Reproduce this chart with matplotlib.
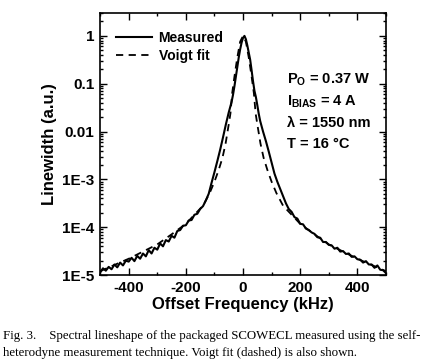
import numpy as np
import matplotlib
matplotlib.use('Agg')
import matplotlib.pyplot as plt
from matplotlib.ticker import LogLocator, MultipleLocator, FixedLocator, NullFormatter

# measured lineshape, offset freq (kHz) and log10(linewidth)
meas_f = [-500, -490, -480, -470, -460, -450, -440, -430, -420, -410,
          -400, -390, -380, -370, -360, -350, -340, -330, -320, -310,
          -300, -290, -280, -270, -260, -250, -240, -230, -220, -210,
          -200, -190, -180, -170, -160, -150, -140, -130, -120, -110,
          -100, -90, -80, -70, -60, -50, -40, -35, -30, -25,
          -20, -15, -10, -5, 0, 5, 10, 15, 20, 25,
          30, 35, 40, 45, 50, 55, 60, 70, 80, 90,
          100, 110, 120, 130, 140, 150, 160, 170, 180, 190,
          200, 210, 220, 230, 240, 250, 260, 270, 280, 290,
          300, 310, 320, 330, 340, 350, 360, 370, 380, 390,
          400, 410, 420, 430, 440, 450, 460, 470, 480, 490,
          500]
meas_log = [-4.95, -4.86, -4.91, -4.83, -4.88, -4.78, -4.84, -4.74, -4.80, -4.70,
            -4.72, -4.64, -4.71, -4.60, -4.66, -4.55, -4.61, -4.48, -4.55, -4.43,
            -4.47, -4.34, -4.40, -4.27, -4.30, -4.18, -4.22, -4.08, -4.06, -3.97,
            -3.96, -3.86, -3.85, -3.74, -3.72, -3.62, -3.56, -3.44, -3.30, -3.07,
            -2.85, -2.62, -2.38, -2.12, -1.85, -1.60, -1.38, -1.23, -1.05, -0.85,
            -0.65, -0.45, -0.28, -0.14, -0.04, 0.00, -0.07, -0.20, -0.35, -0.50,
            -0.72, -0.95, -1.15, -1.28, -1.45, -1.63, -1.78, -2.00, -2.20, -2.42,
            -2.65, -2.88, -3.05, -3.20, -3.35, -3.50, -3.62, -3.68, -3.79, -3.82,
            -3.93, -3.94, -4.03, -4.06, -4.11, -4.14, -4.21, -4.22, -4.31, -4.31,
            -4.37, -4.38, -4.45, -4.43, -4.51, -4.50, -4.56, -4.55, -4.62, -4.61,
            -4.67, -4.68, -4.74, -4.71, -4.78, -4.78, -4.85, -4.80, -4.89, -4.90,
            -4.96]

# Voigt fit (symmetric), |offset| in kHz and log10(linewidth)
voigt_f = [0, 10, 20, 30, 38, 44, 50, 61, 72, 85, 100, 117, 140, 200, 250, 300, 400, 500]
voigt_log = [0.0, -0.12, -0.45, -0.85, -1.20, -1.62, -1.85, -2.25, -2.55, -2.80,
             -3.05, -3.29, -3.55, -3.93, -4.15, -4.36, -4.66, -4.92]

info_lines = ['P$_\\mathregular{O}$ = 0.37 W', 'I$_\\mathregular{BIAS}$ = 4 A',
              '\u03bb = 1550 nm', 'T = 16 \u00b0C']
caption = ['Fig. 3.    Spectral lineshape of the packaged SCOWECL measured using the self-',
           'heterodyne measurement technique. Voigt fit (dashed) is also shown.']

plt.rcParams['font.family'] = ['Liberation Sans', 'DejaVu Sans']
plt.rcParams['mathtext.default'] = 'regular'

fig = plt.figure(figsize=(4.26, 3.63), dpi=100)
ax = fig.add_axes([0.235, 0.2424, 0.671, 0.7216])

mf = np.array(meas_f)
my = 10.0 ** np.array(meas_log)
vf = np.array(voigt_f)
vy = 10.0 ** np.array(voigt_log)
vf_full = np.concatenate([-vf[::-1], vf[1:]])
vy_full = np.concatenate([vy[::-1], vy[1:]])

ax.plot(mf, my, color='black', lw=1.5, label='Measured')
ax.plot(vf_full, vy_full, color='black', lw=1.3, ls=(0, (4, 3)), label='Voigt fit')

ax.set_yscale('log')
ax.set_xlim(-500, 500)
ax.set_ylim(1e-5, 3.0)

ax.xaxis.set_major_locator(FixedLocator([-400, -200, 0, 200, 400]))
ax.xaxis.set_minor_locator(MultipleLocator(100))
ax.yaxis.set_major_locator(FixedLocator([1e-5, 1e-4, 1e-3, 1e-2, 1e-1, 1]))
ax.yaxis.set_minor_locator(LogLocator(base=10, subs=np.arange(2, 10)))
ax.yaxis.set_minor_formatter(NullFormatter())
ax.set_yticklabels(['1E-5', '1E-4', '1E-3', '0.01', '0.1', '1'])
ax.set_xticklabels(['-400', '-200', '0', '200', '400'])

ax.tick_params(which='both', direction='in', top=True, right=True, width=1.0)
ax.tick_params(which='major', length=5, labelsize=11, pad=4)
ax.tick_params(which='minor', length=2.5)
for lab in ax.get_xticklabels() + ax.get_yticklabels():
    lab.set_fontweight('bold')
for sp in ax.spines.values():
    sp.set_linewidth(1.2)

ax.set_xlabel('Offset Frequency (kHz)', fontsize=12, fontweight='bold', labelpad=2)
ax.set_ylabel('Linewidth (a.u.)', fontsize=12, fontweight='bold', labelpad=4)

leg = ax.legend(loc='upper left', bbox_to_anchor=(0.02, 0.97), frameon=False,
                handlelength=2.6, handletextpad=0.5, borderpad=0.2, labelspacing=0.3,
                prop={'weight': 'bold', 'size': 10})

for i, t in enumerate(info_lines):
    ax.text(0.655, 0.745 - i * 0.082, t, transform=ax.transAxes, fontsize=10.5,
            fontweight='bold', va='center', ha='left')

for i, t in enumerate(caption):
    fig.text(0.008, 0.075 - i * 0.047, t, fontsize=9.3, family='Liberation Serif',
             va='center', ha='left')

fig.savefig('out.png', dpi=100)
